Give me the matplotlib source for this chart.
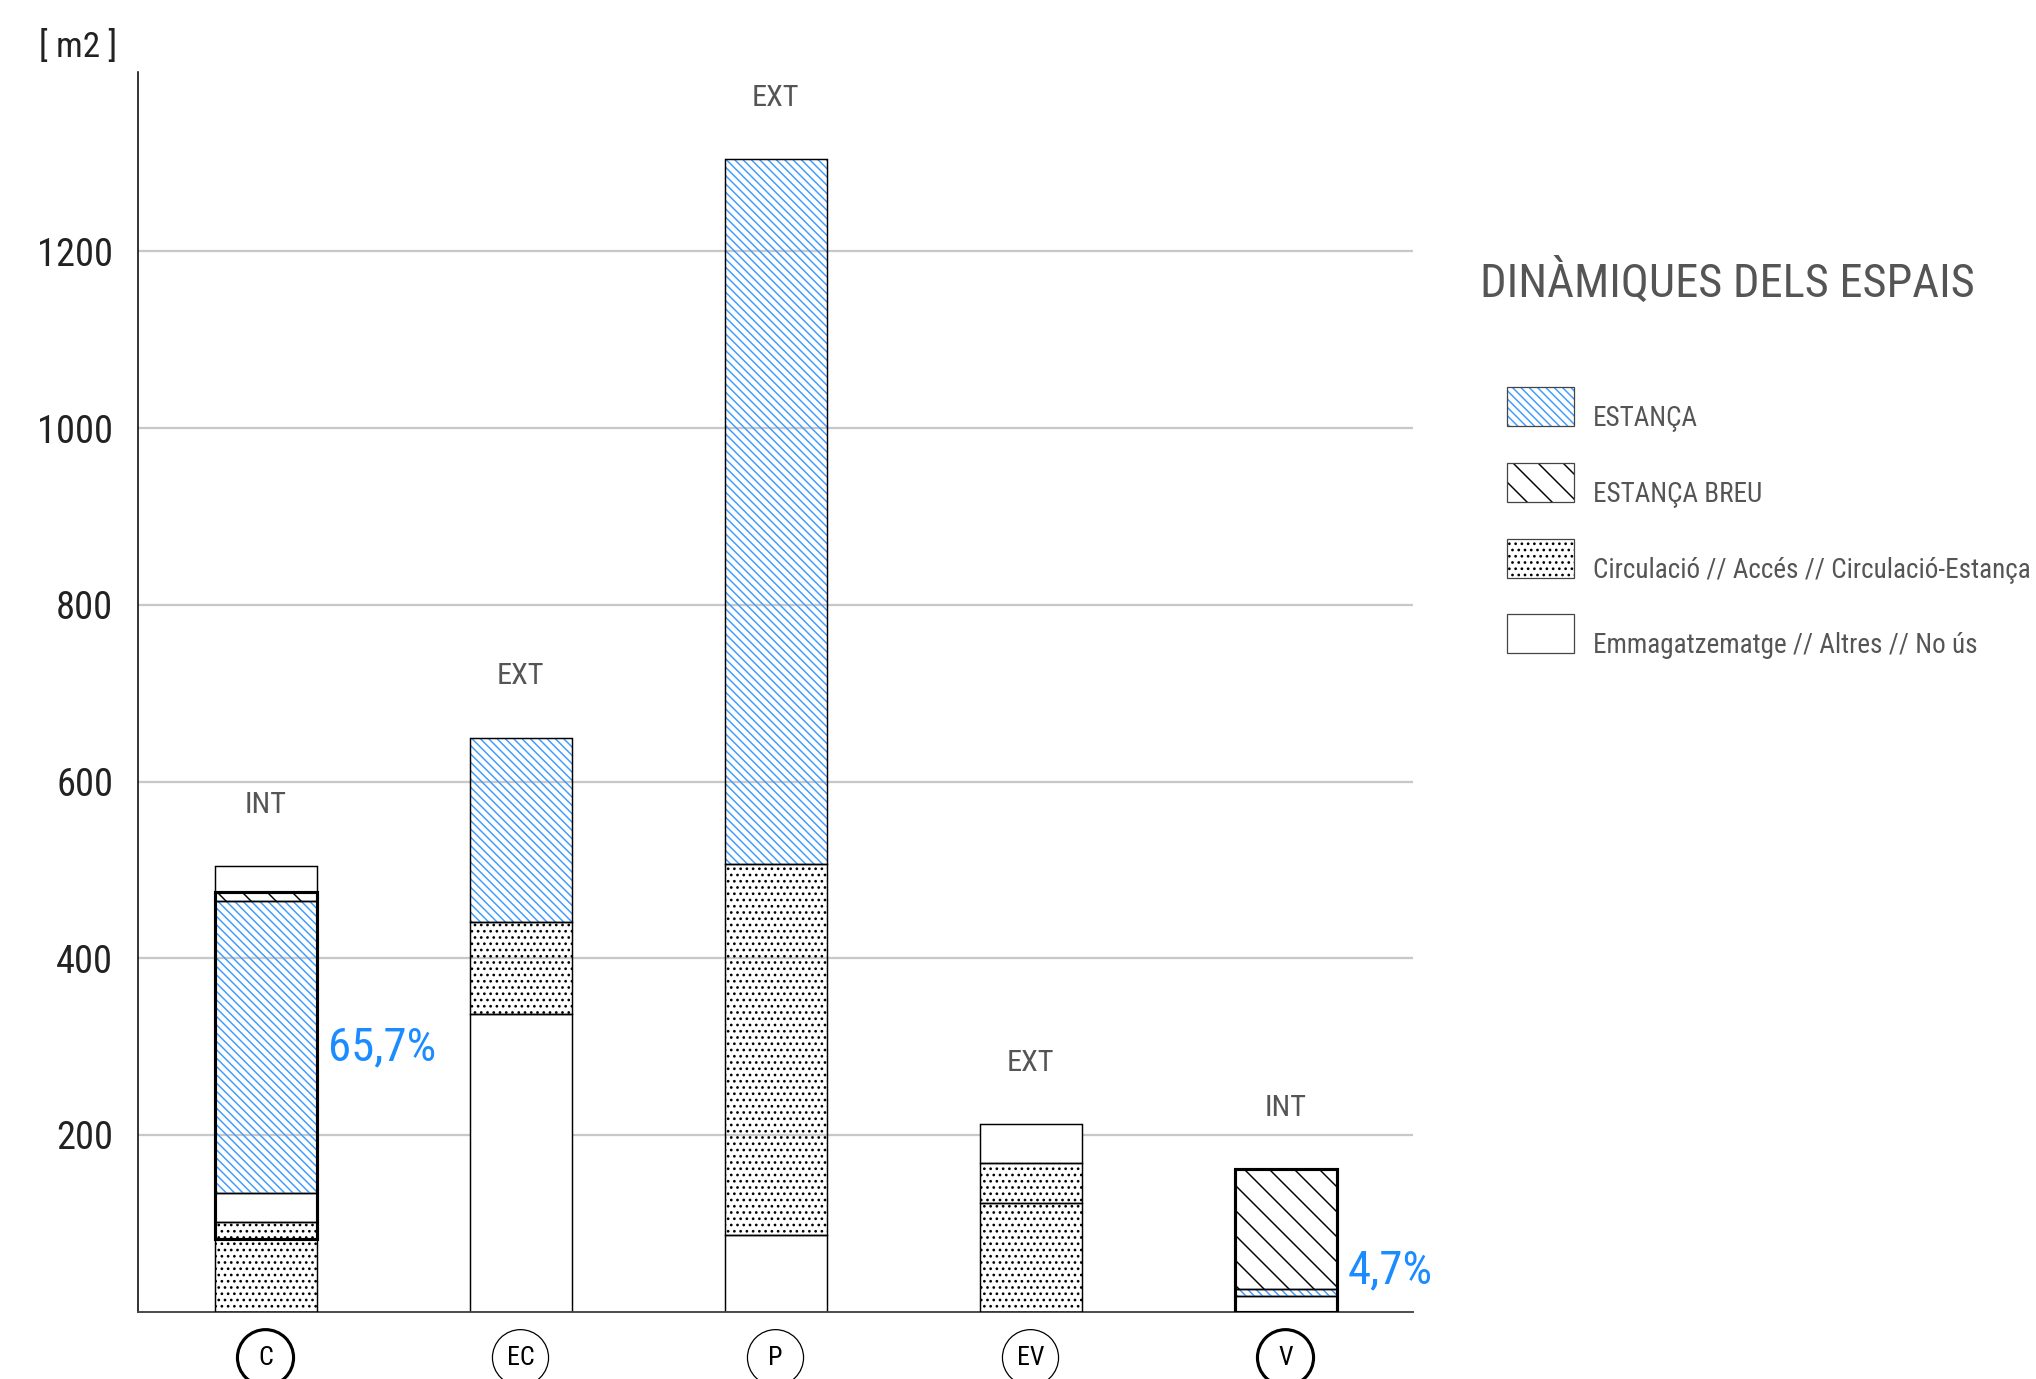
import matplotlib
matplotlib.use('Agg')
import matplotlib.pyplot as plt
from matplotlib.patches import Rectangle, Ellipse
from matplotlib import font_manager as fm
import numpy as np

# ---------------- font choice (condensed if available) ----------------
_entries = fm.fontManager.ttflist
_cond = ('condensed', 'semi-condensed', 'extra-condensed', 'ultra-condensed')


def _pick_font():
    prefs = [('Liberation Sans Narrow', None), ('Roboto Condensed', None),
             ('Noto Sans', _cond), ('Open Sans', _cond),
             ('DejaVu Sans', _cond)]
    for name, stretches in prefs:
        ok = [e for e in _entries if e.name == name and e.style == 'normal'
              and (stretches is None or e.stretch in stretches)]
        if ok:
            return name, (ok[0].stretch if stretches else 'normal')
    return 'Roboto', 'normal'


FONT, STRETCH = _pick_font()
plt.rcParams['font.family'] = [FONT, 'DejaVu Sans']
plt.rcParams['font.stretch'] = STRETCH
plt.rcParams['hatch.linewidth'] = 0.7

# ---------------- data ----------------
categories = ['C', 'EC', 'P', 'EV', 'V']
zone_labels = ['INT', 'EXT', 'EXT', 'EXT', 'INT']

c_types = ['circ', 'circ', 'emm', 'est', 'breu', 'emm']
c_values = [82, 19, 33, 331, 10, 29]
ec_types = ['emm', 'circ', 'est']
ec_values = [337, 104, 208]
p_types = ['emm', 'circ', 'est']
p_values = [87, 420, 797]
ev_types = ['circ', 'circ', 'emm']
ev_values = [123, 45, 44]
v_types = ['emm', 'est', 'breu']
v_values = [18, 7.5, 135.5]

# slice of segments (start, stop) outlined as interior group, per bar
int_groups = [(1, 5), None, None, None, (0, 3)]
pct_labels = ['65,7%', '', '', '', '4,7%']

yticks = [200, 400, 600, 800, 1000, 1200]
legend_types = ['est', 'breu', 'circ', 'emm']
legend_labels = ['ESTANÇA', 'ESTANÇA BREU',
                 'Circulació // Accés // Circulació-Estança',
                 'Emmagatzematge // Altres // No ús']
title = 'DINÀMIQUES DELS ESPAIS'
unit_label = '[ m2 ]'

all_types = [c_types, ec_types, p_types, ev_types, v_types]
all_values = [c_values, ec_values, p_values, ev_values, v_values]

# ---------------- styles ----------------
BLUE_HATCH = '#3d9bff'
styles = {
    'est': dict(hatch='\\' * 6, hcolor=BLUE_HATCH),
    'breu': dict(hatch='\\' * 2, hcolor='black'),
    'circ': dict(hatch='....', hcolor='black'),
    'emm': dict(hatch=None, hcolor=None),
}
GRAY_TXT = '#555555'

W, H, DPI = 2036, 1379, 150
fig = plt.figure(figsize=(W / DPI, H / DPI), dpi=DPI)
ax = fig.add_axes([138 / W, 1 - 1311.7 / H, (1413 - 138) / W, (1311.7 - 72) / H])

bar_w = 0.4
for i, (types, vals) in enumerate(zip(all_types, all_values)):
    bottoms = np.concatenate([[0], np.cumsum(vals)[:-1]])
    for t, v, b in zip(types, vals, bottoms):
        st = styles[t]
        if st['hatch'] is None:
            ax.bar(i, v, bottom=b, width=bar_w, facecolor='white',
                   edgecolor='black', linewidth=0.7, zorder=2)
        else:
            ax.bar(i, v, bottom=b, width=bar_w, facecolor='none',
                   edgecolor=st['hcolor'], hatch=st['hatch'], linewidth=0,
                   zorder=2)
            ax.bar(i, v, bottom=b, width=bar_w, fill=False,
                   edgecolor='black', linewidth=0.7, zorder=3)
    total = float(np.sum(vals))
    grp = int_groups[i]
    if grp is not None:
        g0 = float(np.sum(vals[:grp[0]]))
        gh = float(np.sum(vals[grp[0]:grp[1]]))
        ax.bar(i, gh, bottom=g0, width=bar_w, fill=False, edgecolor='black',
               linewidth=1.5, zorder=4)
    # zone label
    ax.text(i, total + 70, zone_labels[i], ha='center', va='center',
            fontsize=14.5, color=GRAY_TXT)
    # percentage label next to the 'est' segment
    if pct_labels[i]:
        k = types.index('est')
        seg_b = float(bottoms[k])
        seg_t = seg_b + vals[k]
        if vals[k] > 100:
            ax.text(i + bar_w / 2 + 0.045, (seg_b + seg_t) / 2, pct_labels[i],
                    ha='left', va='center', fontsize=22.5, color='#1a8cff')
        else:
            ax.text(i + bar_w / 2 + 0.045, seg_t + 6, pct_labels[i],
                    ha='left', va='baseline', fontsize=22.5, color='#1a8cff')
    # circled category label
    thick = zone_labels[i] == 'INT'
    ax.add_patch(Ellipse((i, -52), 0.22, 63.4, fill=False, edgecolor='black',
                         linewidth=1.5 if thick else 0.6, clip_on=False,
                         zorder=5))
    ax.text(i, -52, categories[i], ha='center', va='center', fontsize=12.5,
            color='black', clip_on=False)

ax.set_xlim(-0.5, 4.5)
ax.set_ylim(0, 1403)
ax.set_yticks(yticks)
ax.set_yticklabels([str(t) for t in yticks], fontsize=18.5, color='#222222')
ax.tick_params(axis='y', length=0, pad=12)
ax.set_xticks([])
ax.yaxis.grid(True, color='#c8c8c8', linewidth=1.1)
ax.set_axisbelow(True)
for s in ['top', 'right']:
    ax.spines[s].set_visible(False)
ax.spines['left'].set_color('black')
ax.spines['left'].set_linewidth(0.75)
ax.spines['bottom'].set_color('#444444')
ax.spines['bottom'].set_linewidth(0.9)

fig.text(78 / W, 1 - 47 / H, unit_label, ha='center', va='center',
         fontsize=17, color='#222222')

# ---------------- legend / title overlay ----------------
lax = fig.add_axes([0, 0, 1, 1])
lax.set_xlim(0, W)
lax.set_ylim(H, 0)
lax.axis('off')
title_txt = lax.text(1480, 282, title, ha='left', va='center', fontsize=27,
                     color=GRAY_TXT)
row_tops = [387, 463, 539, 614]
leg_texts = []
for t, lab, y0 in zip(legend_types, legend_labels, row_tops):
    st = styles[t]
    if st['hatch'] is None:
        lax.add_patch(Rectangle((1507, y0), 67, 39, facecolor='white',
                                edgecolor='#444444', linewidth=0.6))
    else:
        lax.add_patch(Rectangle((1507, y0), 67, 39, facecolor='none',
                                edgecolor=st['hcolor'], hatch=st['hatch'],
                                linewidth=0))
        lax.add_patch(Rectangle((1507, y0), 67, 39, fill=False,
                                edgecolor='#444444', linewidth=0.6))
    leg_texts.append(lax.text(1593, y0 + 39, lab, ha='left', va='baseline',
                              fontsize=15.8, color=GRAY_TXT))

# shrink title / legend texts so they span the same width as in the reference
fig.canvas.draw()
r = fig.canvas.get_renderer()
tw = title_txt.get_window_extent(r).width
title_txt.set_fontsize(min(27, 27 * 494 / tw))
lw_ = leg_texts[2].get_window_extent(r).width
leg_fs = min(15.8, 15.8 * 438 / lw_)
for tx in leg_texts:
    tx.set_fontsize(leg_fs)

fig.savefig('out.png', dpi=DPI)
